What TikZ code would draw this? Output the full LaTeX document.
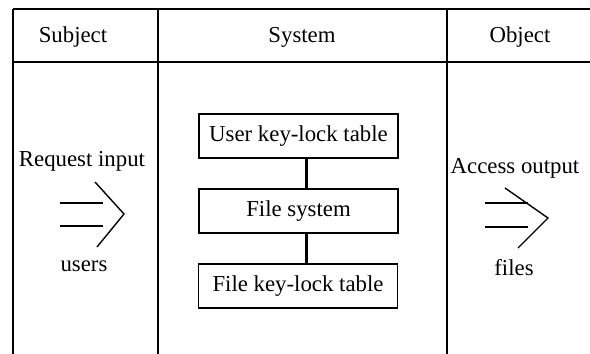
\documentclass[tikz,border=0pt]{standalone}
\usepackage{fontspec}
\setmainfont{Liberation Serif}
\begin{document}
\begin{tikzpicture}[x=0.5pt,y=-0.5pt,
  rule/.style={line width=0.75pt},
  txt/.style={font=\fontsize{11.4}{13}\selectfont, inner sep=0pt},
  tbox/.style={draw, line width=0.75pt, minimum width=99.5pt, minimum height=22pt, font=\fontsize{11.4}{13}\selectfont, inner sep=0pt},
  link/.style={line width=1.3pt},
  arr/.style={line width=0.7pt}]
\useasboundingbox (0,0) rectangle (590,354);
% table
\coordinate (tl) at (13,9);
\coordinate (tr) at (590,9);
\coordinate (hl) at (13,62);
\coordinate (hr) at (590,62);
\coordinate (bl) at (13,354);
\coordinate (c1t) at (158,9);
\coordinate (c1b) at (158,354);
\coordinate (c2t) at (447,9);
\coordinate (c2b) at (447,354);
\draw[rule] (tl) -- (tr);
\draw[rule] (hl) -- (hr);
\draw[rule] (tl) -- (bl);
\draw[rule] (c1t) -- (c1b);
\draw[rule] (c2t) -- (c2b);
% headers
\node[txt] (hs) at (73,37) {Subject};
\node[txt] (hy) at (302,37) {System};
\node[txt] (ho) at (520,37) {Object};
% boxes
\node[tbox] (ukl) at (298.5,136) {User key-lock table};
\node[tbox] (fs) at (298.5,211) {File system};
\node[tbox] (fkl) at (298,286) {File key-lock table};
\draw[link] (ukl.south) ++(4pt,0) coordinate (a1) -- (a1 |- fs.north);
\draw[link] (fs.south) ++(4pt,0) coordinate (a2) -- (a2 |- fkl.north);
% left arrow
\node[txt] (req) at (82,161) {Request input};
\node[txt] (usr) at (84,266) {users};
\coordinate (l1a) at (60,203); \coordinate (l1b) at (103,203);
\coordinate (l2a) at (60,226); \coordinate (l2b) at (103,226);
\coordinate (lc1) at (95,182); \coordinate (lc2) at (124,214); \coordinate (lc3) at (97,247);
\draw[arr] (l1a) -- (l1b);
\draw[arr] (l2a) -- (l2b);
\draw[arr] (lc1) -- (lc2) -- (lc3);
% right arrow
\node[txt] (acc) at (515,168) {Access output};
\node[txt] (fil) at (514,268) {files};
\coordinate (r1a) at (485,203); \coordinate (r1b) at (528,203);
\coordinate (r2a) at (485,227); \coordinate (r2b) at (528,227);
\coordinate (rc1) at (505,188); \coordinate (rc2) at (548,218); \coordinate (rc3) at (518,248);
\draw[arr] (r1a) -- (r1b);
\draw[arr] (r2a) -- (r2b);
\draw[arr] (rc1) -- (rc2) -- (rc3);
\end{tikzpicture}
\end{document}
